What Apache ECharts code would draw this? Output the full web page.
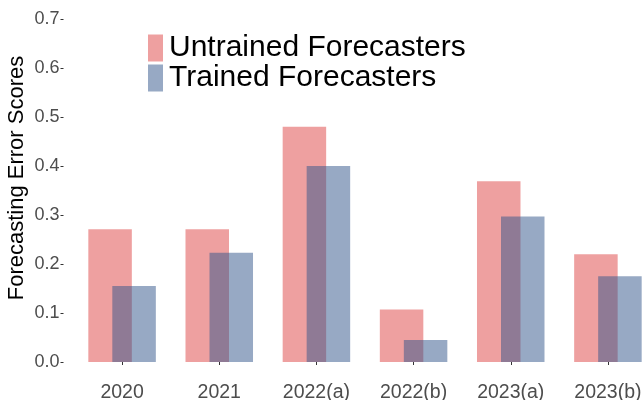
<!DOCTYPE html>
<html>
<head>
<meta charset="utf-8">
<script src="https://cdn.jsdelivr.net/npm/echarts@6/dist/echarts.min.js"></script>
<style>html,body{margin:0;padding:0;background:#fff}#c{width:642px;height:400px}</style>
</head>
<body>
<div id="c"></div>
<script>
var categories = ['2020', '2021', '2022(a)', '2022(b)', '2023(a)', '2023(b)'];
var untrained = [0.271, 0.271, 0.48, 0.107, 0.369, 0.22];
var trained = [0.155, 0.223, 0.40, 0.045, 0.297, 0.175];
var yTicks = [0, 0.1, 0.2, 0.3, 0.4, 0.5, 0.6, 0.7];
var seriesNames = ['Untrained Forecasters', 'Trained Forecasters'];
var yTitle = 'Forecasting Error Scores';

var font = '"Liberation Sans", Arial, sans-serif';
var chart = echarts.init(document.getElementById('c'), null, {renderer: 'canvas'});
chart.setOption({
  animation: false,
  backgroundColor: '#ffffff',
  grid: {left: 73.5, width: 583, top: 19, bottom: 38, containLabel: false, outerBoundsMode: 'none'},
  legend: {
    orient: 'vertical', left: 148, top: 33, padding: 0, itemWidth: 15, itemHeight: 27, itemGap: 0,
    icon: 'rect', data: seriesNames,
    textStyle: {fontFamily: font, fontSize: 30, color: '#000', lineHeight: 27, padding: [0, 0, 0, 1]}
  },
  xAxis: {
    type: 'category', data: categories, offset: 17,
    axisLine: {show: false},
    axisTick: {show: true, alignWithLabel: true, length: 3, lineStyle: {color: '#333'}},
    axisLabel: {fontFamily: font, fontSize: 19.5, color: '#4d4d4d', margin: 4}
  },
  yAxis: {
    type: 'value', min: yTicks[0], max: yTicks[yTicks.length - 1], interval: 0.1, offset: 10,
    axisLine: {show: false}, splitLine: {show: false},
    axisTick: {show: true, length: 3, lineStyle: {color: '#333'}},
    axisLabel: {fontFamily: font, fontSize: 18, color: '#4d4d4d', margin: 4,
      formatter: function (v) { return v.toFixed(1); }}
  },
  graphic: [{
    type: 'text', x: 17, y: 178, rotation: Math.PI / 2,
    style: {text: yTitle, fontFamily: font, fontSize: 22, fill: '#000',
      align: 'center', verticalAlign: 'middle'}
  }],
  series: [
    {name: seriesNames[0], type: 'bar', data: untrained, barWidth: 43.5, barGap: '-44.8%',
      itemStyle: {color: 'rgb(238,160,160)'}},
    {name: seriesNames[1], type: 'bar', data: trained, barWidth: 43.5, barGap: '-44.8%',
      itemStyle: {color: 'rgba(47,83,137,0.5)'}}
  ]
});
</script>
</body>
</html>
